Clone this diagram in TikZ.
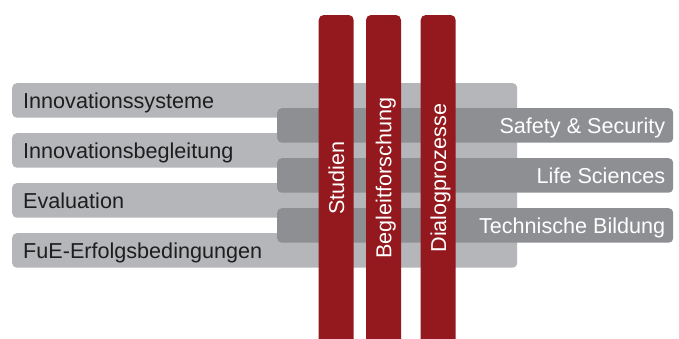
\documentclass[tikz,border=0pt]{standalone}
\usepackage{fontspec}
\setmainfont{Liberation Sans}
\usetikzlibrary{calc}
\definecolor{barred}{HTML}{94191E}
\definecolor{lightbar}{HTML}{B5B6B9}
\definecolor{darkbar}{HTML}{8E8F93}
\definecolor{inktext}{HTML}{1E1E1E}
\tikzset{
  lbar/.style={fill=lightbar, draw=none, rounded corners=4.5pt, minimum width=505pt, minimum height=34.5pt, anchor=north west, inner sep=0pt},
  dbar/.style={fill=darkbar, draw=none, rounded corners=4.5pt, minimum width=396pt, minimum height=34.5pt, anchor=north west, inner sep=0pt},
  labelfont/.style={inner sep=0pt, font=\fontsize{21.6pt}{25pt}\selectfont},
  ltext/.style={labelfont, text=inktext, anchor=base west},
  rtext/.style={labelfont, text=white, anchor=base east},
  vtext/.style={labelfont, text=white, anchor=base, rotate=90},
  pillar/.style={fill=barred, draw=none, rounded corners=5pt}
}
\begin{document}
\begin{tikzpicture}[x=1pt, y=-1pt]
\useasboundingbox (0,0) rectangle (679,338);
% light bars (left topics)
\node[lbar] (l1) at (12,83) {};
\node[lbar] (l2) at (12,133) {};
\node[lbar] (l3) at (12,183) {};
\node[lbar] (l4) at (12,233) {};
\node[ltext] (lt1) at ($(l1.west)+(11,7.8)$) {Innovationssysteme};
\node[ltext] (lt2) at ($(l2.west)+(11,7.8)$) {Innovationsbegleitung};
\node[ltext] (lt3) at ($(l3.west)+(11,7.8)$) {Evaluation};
\node[ltext] (lt4) at ($(l4.west)+(11,7.8)$) {FuE-Erfolgsbedingungen};
% dark bars (right topics)
\node[dbar] (d1) at (277,108) {};
\node[dbar] (d2) at (277,158) {};
\node[dbar] (d3) at (277,208) {};
\node[rtext] (dt1) at ($(d1.east)+(-8,7.8)$) {Safety \& Security};
\node[rtext] (dt2) at ($(d2.east)+(-8,7.8)$) {Life Sciences};
\node[rtext] (dt3) at ($(d3.east)+(-8,7.8)$) {Technische Bildung};
% red pillars, open at the bottom
\fill[pillar] (318.7,345) -- (318.7,15) -- (353.7,15) -- (353.7,345) -- cycle;
\fill[pillar] (366,345) -- (366,15) -- (401,15) -- (401,345) -- cycle;
\fill[pillar] (420.7,345) -- (420.7,15) -- (455.7,15) -- (455.7,345) -- cycle;
\coordinate (p1) at (336.2,178);
\coordinate (p2) at (383.5,178);
\coordinate (p3) at (438.2,178);
\node[vtext] (vt1) at ($(p1)+(7.8,0)$) {Studien};
\node[vtext] (vt2) at ($(p2)+(7.8,0)$) {Begleitforschung};
\node[vtext] (vt3) at ($(p3)+(7.8,0)$) {Dialogprozesse};
\end{tikzpicture}
\end{document}
